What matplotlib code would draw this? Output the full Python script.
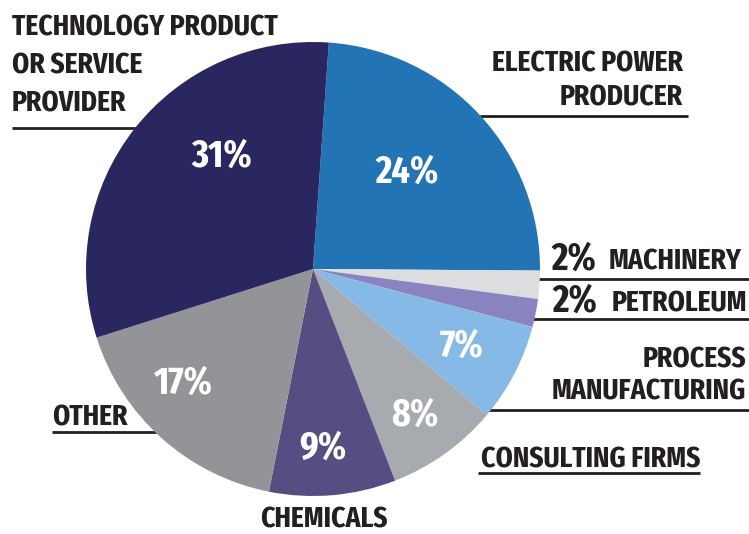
import matplotlib
matplotlib.use("Agg")
import matplotlib.pyplot as plt

# data
sectors = ["Electric Power Producer", "Machinery", "Petroleum", "Process Manufacturing",
           "Consulting Firms", "Chemicals", "Other", "Technology Product or Service Provider"]
shares = [24, 2, 2, 7, 8, 9, 17, 31]
colors = ["#2274b4", "#dcdddf", "#8983bf", "#86b9e5", "#a7aaae", "#564d83", "#929497", "#2a2760"]

W, H = 749, 534
INK = "#231f20"
FONT = ["Fira Sans Extra Condensed", "DejaVu Sans"]


def Y(y):
    return H - y


fig = plt.figure(figsize=(W / 100, H / 100), dpi=100)
ax = fig.add_axes([0, 0, 1, 1])

cx, cy, r = 313, 269, 227
ax.pie(shares, colors=colors, startangle=86, counterclock=False,
       center=(cx, Y(cy)), radius=r, wedgeprops=dict(linewidth=0), frame=False)
ax.set_xlim(0, W)
ax.set_ylim(0, H)
ax.set_aspect("equal")
ax.axis("off")

# percentage labels inside the slices
pct_pos = [(407, 172), None, None, (462, 346), (415, 415), (323, 448), (183, 383), (222, 156)]
for val, pos in zip(shares, pct_pos):
    if pos is None:
        continue
    ax.text(pos[0], Y(pos[1]), f"{val}%", color="white", fontsize=28, fontweight="bold",
            family=FONT, ha="center", va="center")

# leader lines (drawn under the pie)
leaders = [(12, 140, 128), (480, 688, 116), (535, 749, 279), (528, 749, 319),
           (485, 749, 410), (478, 700, 473), (52, 160, 432)]
for x0, x1, y in leaders:
    ax.plot([x0, x1], [Y(y), Y(y)], color=INK, lw=2, zorder=0, solid_capstyle="butt")


def label(x, y, s, ha="left", size=21.5):
    ax.text(x, Y(y), s, color=INK, fontsize=size, fontweight="bold", family=FONT,
            ha=ha, va="baseline")


label(12, 36, "TECHNOLOGY PRODUCT")
label(12, 74, "OR SERVICE")
label(12, 111, "PROVIDER")
label(683, 72, "ELECTRIC POWER", ha="right")
label(683, 105, "PRODUCER", ha="right")
label(551, 270, "2%", size=28)
label(741, 270, "MACHINERY", ha="right", size=21.5)
label(552, 312, "2%", size=28)
label(747, 312, "PETROLEUM", ha="right", size=21.5)
label(746, 367, "PROCESS", ha="right")
label(746, 400, "MANUFACTURING", ha="right")
label(700, 467, "CONSULTING FIRMS", ha="right")
label(52, 425, "OTHER")
label(260, 527, "CHEMICALS")

fig.savefig("out.png", dpi=100)
